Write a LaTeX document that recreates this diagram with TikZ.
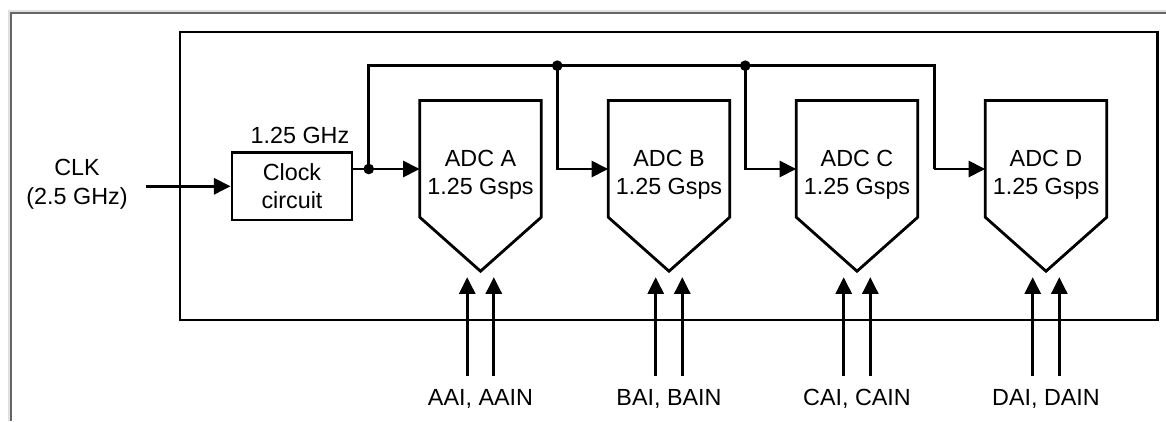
\documentclass[tikz,border=0pt]{standalone}
\usepackage{fontspec}
\setmainfont{Liberation Sans}
\usetikzlibrary{arrows.meta,calc,positioning}

\tikzset{
  wire/.style={line width=2.1pt},
  sig/.style={wire,-{Triangle[length=12.5pt,width=12pt]}},
  adcbody/.style={minimum width=90.75pt,minimum height=87.2pt,inner sep=0pt},
  txt/.style={font=\fontsize{17.5}{21.5}\selectfont,align=center,inner sep=0pt},
  dot/.style={circle,fill,inner sep=0pt,minimum size=8pt},
}

\begin{document}
\begin{tikzpicture}[x=0.75pt,y=-0.75pt]
    \useasboundingbox (0,0) rectangle (1166,421);
    % window frame
    \draw[black!12,line width=3pt] (9.5,421) -- (9.5,11.8) -- (1166,11.8);
    \draw[black!60,line width=1.7pt] (10.7,421) -- (10.7,13) -- (1166,13);
    % chip outline
    \draw[wire] (180,32) rectangle (1157.7,320);
    % clock input
    \node[draw,wire,txt,minimum width=90pt,minimum height=50.6pt] (clock) at (292,186.3) {Clock\\circuit};
    \node[txt] (clklab) at (77,184.5) {CLK\\(2.5 GHz)};
    \node[txt] (freq) at (300,135) {1.25 GHz};
    \coordinate (clkin) at (145.7,186.3);
    \draw[sig] (clkin) -- (clock.west);
    % the four ADCs with their inputs
    \foreach \n/\x in {A/480.5,B/669,C/857,D/1046} {
        \node[adcbody] (adc\n) at (\x,158.8) {};
        \draw[wire,line join=miter] (adc\n.north west) -- (adc\n.north east) -- (adc\n.south east)
            -- ($(adc\n.south)+(0,54)$) -- (adc\n.south west) -- cycle;
        \node[txt] (name\n) at ($(adc\n.center)+(0,16)$) {ADC \n\\1.25 Gsps};
        \coordinate (tip\n) at ($(adc\n.south)+(0,60)$);
        \coordinate (inp\n) at ($(tip\n)+(-13.3,99)$);
        \coordinate (inn\n) at ($(tip\n)+(13.3,99)$);
        \draw[sig] (inp\n) -- (inp\n |- tip\n);
        \draw[sig] (inn\n) -- (inn\n |- tip\n);
        \node[txt] (pins\n) at ($(tip\n)+(0,122)$) {\n AI, \n AIN};
        \coordinate (tap\n) at ($(adc\n.west)+(-51,10.2)$);
    }
    % clock distribution
    \coordinate (bus) at (0,65.7);
    \draw[wire] (clock.east |- tapA) -- (tapA);
    \draw[sig] (tapA) -- (adcA.west |- tapA);
    \draw[wire] (tapA) -- (tapA |- bus) -- (tapD |- bus) -- (tapD);
    \draw[sig] (tapD) -- (adcD.west |- tapD);
    \foreach \n in {B,C} {
        \draw[sig] (tap\n |- bus) -- (tap\n) -- (adc\n.west |- tap\n);
        \node[dot] (dot\n) at (tap\n |- bus) {};
    }
    \node[dot] (dotA) at (tapA) {};
\end{tikzpicture}
\end{document}
